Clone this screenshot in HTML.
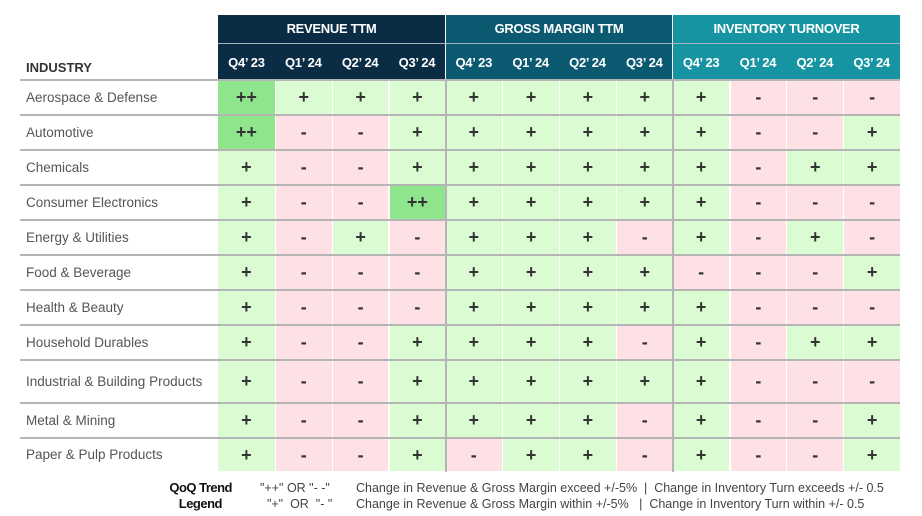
<!DOCTYPE html>
<html><head><meta charset="utf-8"><style>
body{margin:0;width:922px;height:516px;background:#fff;font-family:"Liberation Sans",sans-serif;position:relative;overflow:hidden}
.a{position:absolute}
.h{color:#fff;font-weight:bold;font-size:13px;text-align:center;letter-spacing:-0.3px}
.c{position:absolute;text-align:center;font-weight:bold;color:#333;font-size:18px}
.lab{position:absolute;left:26px;font-size:13.5px;color:#555}
.line{position:absolute;left:20px;width:880px;height:2px;background:#b5b5b5}
.lg{position:absolute;font-size:12.5px;color:#444}
</style></head><body>
<div class="a h" style="left:218px;top:15px;width:227px;height:28px;line-height:28px;background:#0b2c45">REVENUE TTM</div>
<div class="a h" style="left:446px;top:15px;width:226px;height:28px;line-height:28px;background:#0c5a72">GROSS MARGIN TTM</div>
<div class="a h" style="left:673px;top:15px;width:227px;height:28px;line-height:28px;background:#1694a2">INVENTORY TURNOVER</div>
<div class="a" style="left:218px;top:44px;width:227px;height:36px;background:#0b2c45"></div>
<div class="a" style="left:446px;top:44px;width:226px;height:36px;background:#0c5a72"></div>
<div class="a" style="left:673px;top:44px;width:227px;height:36px;background:#1694a2"></div>
<div class="a" style="left:218px;top:43px;width:682px;height:1px;background:#9fb4bd"></div>
<div id="hdr"></div>
<div class="a" style="left:26px;top:60px;font-weight:bold;font-size:13px;color:#333">INDUSTRY</div>
<div id="grid"></div>
<div class="a" style="left:150px;top:480px;width:82px;text-align:right;font-weight:bold;font-size:13px;line-height:16px;color:#111;letter-spacing:-0.5px">QoQ Trend<br><span style="margin-right:10px">Legend</span></div>
<div class="lg" style="left:260px;top:480px;line-height:16px;">"++" OR "- -"<br>&nbsp;&nbsp;"+" &nbsp;OR &nbsp;"- "</div>
<div class="lg" style="left:356px;top:480px;line-height:16px;">Change in Revenue &amp; Gross Margin exceed +/-5% &nbsp;| &nbsp;Change in Inventory Turn exceeds +/- 0.5<br>Change in Revenue &amp; Gross Margin within +/-5% &nbsp;&nbsp;| &nbsp;Change in Inventory Turn within +/- 0.5</div>
<script>
var q=["Q4’ 23","Q1’ 24","Q2’ 24","Q3’ 24"],cw=682/12,h="";
for(var i=0;i<12;i++){h+='<div class="a h" style="left:'+(218+i*cw)+'px;top:44px;width:'+cw+'px;height:36px;line-height:38px;">'+q[i%4]+'</div>';}
document.getElementById("hdr").innerHTML=h;
var names=["Aerospace & Defense","Automotive","Chemicals","Consumer Electronics","Energy & Utilities","Food & Beverage","Health & Beauty","Household Durables","Industrial & Building Products","Metal & Mining","Paper & Pulp Products"];
var d=["++ + + + + + + + + - - -","++ - - + + + + + + - - +","+ - - + + + + + + - + +","+ - - ++ + + + + + - - -","+ - + - + + + - + - + -","+ - - - + + + + - - - +","+ - - - + + + + + - - -","+ - - + + + + - + - + +","+ - - + + + + + + - - -","+ - - + + + + - + - - +","+ - - + - + + - + - - +"];
var ys=[80,115,150,185,220,255,290,325,360,403,438,472];
var g="";
for(var r=0;r<11;r++){var y0=ys[r],y1=ys[r+1],v=d[r].split(" ");
g+='<div class="line" style="top:'+(y0-1)+'px"></div>';
g+='<div class="lab" style="top:'+y0+'px;height:'+(y1-y0)+'px;line-height:'+(y1-y0)+'px">'+names[r].replace("&","&amp;")+'</div>';
for(var i=0;i<12;i++){var s=v[i],bg=s=="++"?"#8fe58b":(s=="+"?"#dbfcd3":"#fde1e4");
g+='<div class="c" style="left:'+(218+i*cw+(i%4?1:0))+'px;top:'+(y0+1)+'px;width:'+(cw-(i%4?1:0))+'px;height:'+(y1-y0-2)+'px;line-height:'+(y1-y0-2)+'px;background:'+bg+'">'+s+'</div>';}}
g+='<div class="a" style="left:445px;top:80px;width:2px;height:392px;background:#b5b5b5"></div>';
g+='<div class="a" style="left:672px;top:80px;width:2px;height:392px;background:#b5b5b5"></div>';
document.getElementById("grid").innerHTML=g;
</script>
</body></html>
